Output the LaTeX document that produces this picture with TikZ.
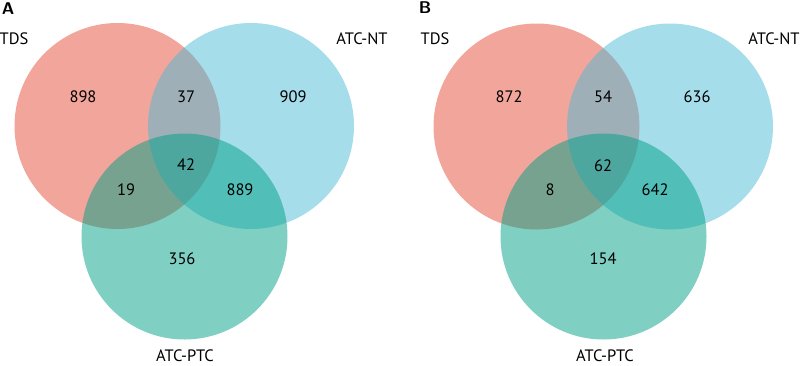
\documentclass[tikz,border=0pt]{standalone}
\usepackage{fontspec}
\setmainfont{PT Sans}
\definecolor{vred}{HTML}{E64B35}
\definecolor{vblue}{HTML}{4DBBD5}
\definecolor{vgreen}{HTML}{00A087}
\begin{document}
\begin{tikzpicture}[x=1pt,y=-1pt,
  setcircle/.style={circle,draw=none,fill=#1,fill opacity=0.5,minimum size=206pt,inner sep=0pt},
  setlabel/.style={inner sep=0pt,font=\fontsize{16.5}{18}\selectfont,text=black},
  count/.style={inner sep=0pt,font=\fontsize{16.5}{18}\selectfont,text=black},
  paneltag/.style={inner sep=0pt,font=\fontsize{17}{19}\selectfont\bfseries\sffamily,text=black}]
\useasboundingbox (0,0) rectangle (800,365);
% Panel A
\node[setcircle=vred]   (aR) at (117.5,126) {};
\node[setcircle=vblue]  (aB) at (251,126) {};
\node[setcircle=vgreen] (aG) at (184.5,236.5) {};
\node[paneltag] (tA) at (8,9) {A};
\node[setlabel] (aTDS) at (14,39) {TDS};
\node[setlabel] (aNT) at (362,39) {ATC-NT};
\node[setlabel] (aPTC) at (185,355.5) {ATC-PTC};
\node[count] (a1) at (83,97) {898};
\node[count] (a2) at (186,97) {37};
\node[count] (a3) at (293,97) {909};
\node[count] (a4) at (186,165) {42};
\node[count] (a5) at (126,190) {19};
\node[count] (a6) at (240,190) {889};
\node[count] (a7) at (182,259) {356};
% Panel B
\node[setcircle=vred]   (bR) at (536.5,126.5) {};
\node[setcircle=vblue]  (bB) at (670,126.5) {};
\node[setcircle=vgreen] (bG) at (603.5,236.5) {};
\node[paneltag] (tB) at (425,8) {B};
\node[setlabel] (bTDS) at (435,39) {TDS};
\node[setlabel] (bNT) at (774,39) {ATC-NT};
\node[setlabel] (bPTC) at (605,355.5) {ATC-PTC};
\node[count] (b1) at (509,97) {872};
\node[count] (b2) at (603,97) {54};
\node[count] (b3) at (697,97) {636};
\node[count] (b4) at (603,166) {62};
\node[count] (b5) at (550,190) {8};
\node[count] (b6) at (655,190) {642};
\node[count] (b7) at (603,259) {154};
\end{tikzpicture}
\end{document}
